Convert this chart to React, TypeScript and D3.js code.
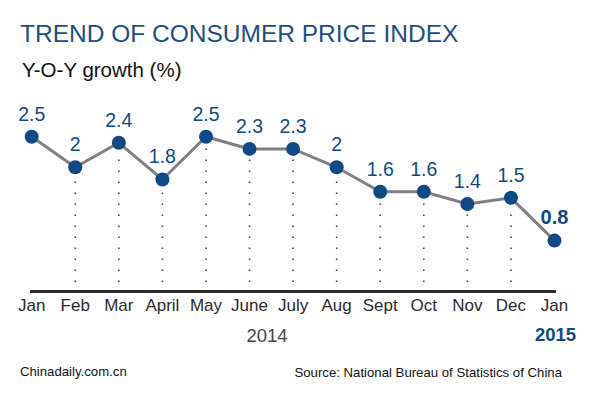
import React, { useEffect, useRef } from 'react';
import * as d3 from 'd3';

const months = ['Jan', 'Feb', 'Mar', 'April', 'May', 'June', 'July', 'Aug', 'Sept', 'Oct', 'Nov', 'Dec', 'Jan'];
const cpiValues = [2.5, 2, 2.4, 1.8, 2.5, 2.3, 2.3, 2, 1.6, 1.6, 1.4, 1.5, 0.8];
const valueLabels = ['2.5', '2', '2.4', '1.8', '2.5', '2.3', '2.3', '2', '1.6', '1.6', '1.4', '1.5', '0.8'];

const WIDTH = 600;
const HEIGHT = 399;
const FONT = '"Liberation Sans", Arial, Helvetica, sans-serif';
const BLUE = '#0f4a86';

const App: React.FC = () => {
  const svgRef = useRef<SVGSVGElement>(null);

  useEffect(() => {
    if (!svgRef.current) return;
    const svg = d3.select(svgRef.current);
    svg.selectAll('*').remove();

    const idx = months.map((_, i) => i);
    const x = d3.scalePoint<number>().domain(idx).range([31.7, 554.5]);
    const y = d3.scaleLinear().domain([0, 2.5]).range([289.5, 136.7]);
    const axisY = 291.5;
    const last = idx.length - 1;

    svg.append('rect').attr('width', WIDTH).attr('height', HEIGHT).attr('fill', '#fff');

    // Title and subtitle
    svg.append('text')
      .attr('x', 20).attr('y', 41.5)
      .attr('font-family', FONT).attr('font-size', 24.5)
      .attr('fill', '#1d4e89')
      .text('TREND OF CONSUMER PRICE INDEX');

    svg.append('text')
      .attr('x', 22).attr('y', 77)
      .attr('font-family', FONT).attr('font-size', 20.5)
      .attr('fill', '#111')
      .text('Y-O-Y growth (%)');

    // Dotted drop lines (Feb..Dec)
    svg.selectAll('.drop')
      .data(idx.filter(i => i > 0 && i < last))
      .enter()
      .append('line')
      .attr('x1', i => x(i) as number)
      .attr('x2', i => x(i) as number)
      .attr('y1', 282)
      .attr('y2', i => y(cpiValues[i]) + 8)
      .attr('stroke', '#444')
      .attr('stroke-width', 1.6)
      .attr('stroke-dasharray', '1.6 9.4');

    // Axis baseline
    svg.append('line')
      .attr('x1', 30).attr('x2', 556)
      .attr('y1', axisY).attr('y2', axisY)
      .attr('stroke', '#2a2a2a')
      .attr('stroke-width', 3.2);

    // Month labels
    svg.selectAll('.month')
      .data(idx)
      .enter()
      .append('text')
      .attr('x', i => x(i) as number)
      .attr('y', 310.5)
      .attr('text-anchor', 'middle')
      .attr('font-family', FONT).attr('font-size', 17)
      .attr('fill', '#2b2b2b')
      .text(i => months[i]);

    svg.append('text')
      .attr('x', 267).attr('y', 341.5)
      .attr('text-anchor', 'middle')
      .attr('font-family', FONT).attr('font-size', 18.5)
      .attr('fill', '#444')
      .text('2014');

    svg.append('text')
      .attr('x', 555.5).attr('y', 341)
      .attr('text-anchor', 'middle')
      .attr('font-family', FONT).attr('font-size', 18.5)
      .attr('font-weight', 'bold')
      .attr('fill', BLUE)
      .text('2015');

    // Line
    const line = d3.line<number>()
      .x(i => x(i) as number)
      .y(i => y(cpiValues[i]));

    svg.append('path')
      .datum(idx)
      .attr('d', line)
      .attr('fill', 'none')
      .attr('stroke', '#808080')
      .attr('stroke-width', 3);

    svg.selectAll('.dot')
      .data(idx)
      .enter()
      .append('circle')
      .attr('cx', i => x(i) as number)
      .attr('cy', i => y(cpiValues[i]))
      .attr('r', 7)
      .attr('fill', BLUE);

    // Value labels
    svg.selectAll('.value-label')
      .data(idx)
      .enter()
      .append('text')
      .attr('x', i => x(i) as number)
      .attr('y', i => y(cpiValues[i]) - (i === last ? 17 : 16))
      .attr('text-anchor', 'middle')
      .attr('font-family', FONT)
      .attr('font-size', i => (i === last ? 20 : 19.5))
      .attr('font-weight', i => (i === last ? 'bold' : 'normal'))
      .attr('fill', BLUE)
      .text(i => valueLabels[i]);

    // Footer
    svg.append('text')
      .attr('x', 20).attr('y', 376)
      .attr('font-family', FONT).attr('font-size', 13.2)
      .attr('fill', '#111')
      .text('Chinadaily.com.cn');

    svg.append('text')
      .attr('x', 562).attr('y', 377)
      .attr('text-anchor', 'end')
      .attr('font-family', FONT).attr('font-size', 13.2)
      .attr('fill', '#111')
      .text('Source: National Bureau of Statistics of China');
  }, []);

  return (
    <svg
      ref={svgRef}
      width={WIDTH}
      height={HEIGHT}
      style={{ position: 'absolute', left: 0, top: 0, display: 'block' }}
    />
  );
};

export default App;
